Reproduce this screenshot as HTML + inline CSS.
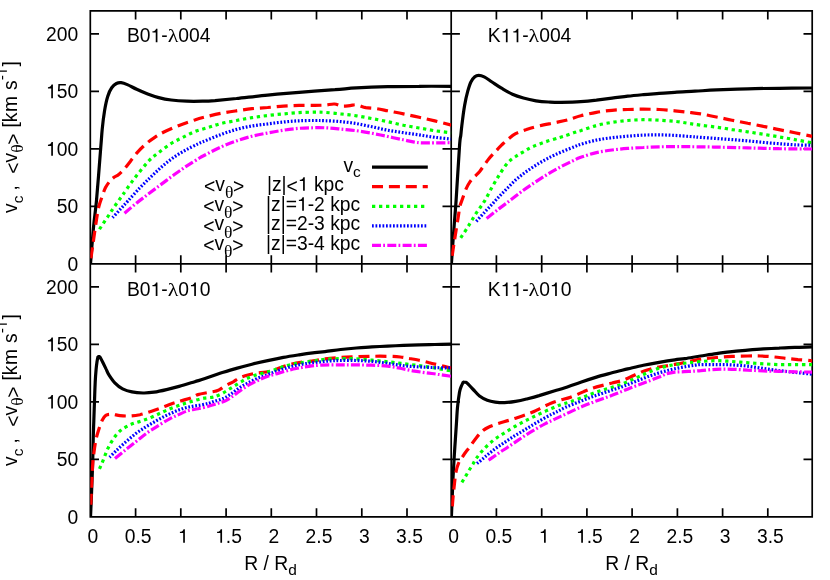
<!DOCTYPE html>
<html><head><meta charset="utf-8"><title>Rotation curves</title>
<style>html,body{margin:0;padding:0;background:#fff}svg{display:block;will-change:transform}text{font-family:"Liberation Sans",sans-serif;font-size:19.3px;fill:#000;font-kerning:none;white-space:pre}.gk{font-family:"Liberation Serif",serif}.c{fill:none;stroke-width:3.2;stroke-linejoin:bevel;stroke-linecap:butt}.f{fill:none;stroke:#000;stroke-width:1.7;stroke-linecap:butt}</style>
</head><body>
<svg width="830" height="580" viewBox="0 0 830 580">
<rect x="0" y="0" width="830" height="580" fill="#fff"/>
<defs>
<clipPath id="cp1"><rect x="90.3" y="10.8" width="360.9" height="253"/></clipPath>
<clipPath id="cp2"><rect x="451.2" y="10.8" width="361.1" height="253"/></clipPath>
<clipPath id="cp3"><rect x="90.3" y="263.9" width="360.9" height="252.9"/></clipPath>
<clipPath id="cp4"><rect x="451.2" y="263.9" width="361.1" height="252.9"/></clipPath>
</defs>
<path class="f" d="M90.3 10.8H812.2V516.8H90.3ZM451.2 10.8V516.8M90.3 263.9H812.2M135.6 10.8v8.6M135.6 255.3V272.5M135.6 516.8v-8.6M180.8 10.8v8.6M180.8 255.3V272.5M180.8 516.8v-8.6M226.1 10.8v8.6M226.1 255.3V272.5M226.1 516.8v-8.6M271.3 10.8v8.6M271.3 255.3V272.5M271.3 516.8v-8.6M316.5 10.8v8.6M316.5 255.3V272.5M316.5 516.8v-8.6M361.8 10.8v8.6M361.8 255.3V272.5M361.8 516.8v-8.6M407 10.8v8.6M407 255.3V272.5M407 516.8v-8.6M496.4 10.8v8.6M496.4 255.3V272.5M496.4 516.8v-8.6M541.7 10.8v8.6M541.7 255.3V272.5M541.7 516.8v-8.6M586.9 10.8v8.6M586.9 255.3V272.5M586.9 516.8v-8.6M632.1 10.8v8.6M632.1 255.3V272.5M632.1 516.8v-8.6M677.4 10.8v8.6M677.4 255.3V272.5M677.4 516.8v-8.6M722.6 10.8v8.6M722.6 255.3V272.5M722.6 516.8v-8.6M767.8 10.8v8.6M767.8 255.3V272.5M767.8 516.8v-8.6M90.3 206.4h8.7M442.5 206.4H459.9M812.2 206.4h-8.7M90.3 148.9h8.7M442.5 148.9H459.9M812.2 148.9h-8.7M90.3 91.3h8.7M442.5 91.3H459.9M812.2 91.3h-8.7M90.3 33.8h8.7M442.5 33.8H459.9M812.2 33.8h-8.7M90.3 459.3h8.7M442.5 459.3H459.9M812.2 459.3h-8.7M90.3 401.8h8.7M442.5 401.8H459.9M812.2 401.8h-8.7M90.3 344.3h8.7M442.5 344.3H459.9M812.2 344.3h-8.7M90.3 286.8h8.7M442.5 286.8H459.9M812.2 286.8h-8.7"/>
<g clip-path="url(#cp1)">
<path class="c" stroke="#000000" d="M90.5 263.7C91 257.5 92.6 236.9 93.6 226.3C94.6 215.7 95.3 213.3 96.5 200.3C97.7 187.3 99.8 159.9 100.7 148.1C101.7 136.3 101.6 135.6 102.2 129.3C102.8 123 103.7 116 104.6 110.5C105.5 105 106.5 100.2 107.7 96.4C108.9 92.6 110.2 89.8 111.7 87.7C113.2 85.6 114.8 84.3 116.4 83.5C118 82.7 119.3 82.5 121.1 82.7C122.9 82.9 124.7 83.5 127.3 84.6C129.9 85.7 133.3 87.7 136.7 89.3C140.1 90.9 144 92.6 147.7 94C151.4 95.4 154.8 96.6 158.7 97.6C162.6 98.6 166.5 99.4 171.2 100C175.9 100.6 181.7 101 186.9 101.2C192.1 101.4 197.9 101.3 202.6 101.2C207.3 101.1 209.4 101 215 100.6C220.6 100.1 227.6 99.4 236.4 98.5C245.2 97.6 257.2 96.1 267.7 95.1C278.1 94.1 287.9 93.2 299.1 92.3C310.3 91.4 325.4 90.4 335 89.7C344.6 89 347.6 88.4 356.4 87.9C365.2 87.4 377.2 86.9 387.7 86.6C398.1 86.3 408.5 86.3 419.1 86.3C429.7 86.2 446 86.3 451.4 86.3"/>
<path class="c" stroke="#ff0000" stroke-dasharray="11 5.9" d="M90.9 258.3C91.2 256.5 92 250.9 92.5 247.3C93 243.7 93.5 240.6 94 236.8C94.5 233 95.2 228.2 95.8 224.3C96.4 220.4 96.9 216.5 97.5 213.3C98.1 210.1 98.5 207.9 99.2 205.3C99.9 202.7 100.7 200.7 101.7 197.8C102.7 194.9 104 190.6 105.4 187.8C106.8 185 108.7 182.6 110.1 180.8C111.5 179.1 112.6 178.4 114 177.3C115.4 176.2 117 175.9 118.7 174.5C120.4 173.1 122.2 171.2 124.2 169C126.2 166.8 128.2 164.2 130.5 161.2C132.8 158.3 135.4 154.4 138.3 151.3C141.2 148.2 144.9 144.8 147.7 142.5C150.4 140.2 152.2 139 154.8 137.3C157.4 135.6 159.4 134.3 163.4 132.3C167.4 130.3 173.9 127.5 179.1 125.4C184.3 123.3 190.5 121.3 194.8 119.9C199.1 118.5 200.7 118.1 205 117C209.3 115.9 215.5 114.4 220.7 113.4C225.9 112.4 231.2 111.6 236.4 110.8C241.6 110 246.8 109.2 252 108.7C257.2 108.2 262.5 107.9 267.7 107.5C272.9 107.1 278.2 106.4 283.4 106.1C288.6 105.8 293.9 105.5 299.1 105.4C304.3 105.3 310.5 105.4 314.8 105.4C319.1 105.3 321.7 105.3 325 105.1C328.3 104.9 331.5 103.8 334.4 104C337.3 104.2 339.6 105.8 342.2 106.1C344.8 106.4 347.7 105.8 350.1 105.6C352.5 105.4 353.8 104.5 356.4 104.8C359 105.1 362.4 106.9 365.8 107.6C369.2 108.2 373.1 108.2 376.7 108.7C380.3 109.2 383.2 109.9 387.7 110.8C392.1 111.7 398.2 112.8 403.4 113.9C408.6 115 413.9 116.1 419.1 117.3C424.3 118.5 429.4 119.6 434.8 120.9C440.2 122.2 448.6 124.4 451.4 125.1"/>
<path class="c" stroke="#00ff00" stroke-dasharray="3.3 3.7" d="M99.5 229.3C100.1 228.3 101.9 225.4 103.3 223.3C104.7 221.2 106.4 218.7 107.7 216.8C109 214.9 109.8 213.5 110.9 211.8C112 210.1 113.2 208.4 114.5 206.5C115.8 204.6 117.6 202.1 119 200.1C120.4 198.1 121 197.4 123 194.5C125 191.6 128.5 186.5 131.3 182.6C134.1 178.8 136.9 175.1 139.9 171.4C142.9 167.7 146.2 163.6 149.3 160.4C152.4 157.2 155.2 155.2 158.7 152.5C162.2 149.8 166.6 146.4 170.5 143.9C174.4 141.4 178.1 139.8 182.2 137.7C186.2 135.7 190.5 133.3 194.8 131.6C199.1 129.9 203.8 128.8 208.1 127.5C212.4 126.2 216 124.8 220.7 123.6C225.4 122.4 231.2 121.5 236.4 120.5C241.6 119.5 246.8 118.5 252 117.7C257.2 116.9 262.5 116.1 267.7 115.5C272.9 114.9 278.2 114.4 283.4 113.9C288.6 113.4 293.9 112.9 299.1 112.6C304.3 112.3 310.5 112.2 314.8 112.2C319.1 112.2 320.7 112.1 325 112.4C329.3 112.7 335.5 113.3 340.7 113.9C345.9 114.5 351.2 115 356.4 115.8C361.6 116.6 366.8 117.6 372 118.6C377.2 119.6 382.5 120.6 387.7 121.7C392.9 122.8 398.2 124.2 403.4 125.2C408.6 126.2 413.9 127.1 419.1 128C424.3 128.9 429.4 129.9 434.8 130.7C440.2 131.5 448.6 132.5 451.4 132.8"/>
<path class="c" stroke="#0000ff" stroke-dasharray="1.75 1.75" d="M112.6 217.7C113.7 216.5 116.9 213 119.4 210.2C121.9 207.4 124.4 204.8 127.8 201.1C131.2 197.4 136.1 191.8 139.9 187.8C143.8 183.8 147.2 180.4 150.9 176.9C154.6 173.4 158.2 169.9 161.8 166.7C165.5 163.6 168.9 160.8 172.8 158C176.7 155.2 181.2 152.6 185.4 150.2C189.6 147.9 194.6 145.5 197.9 143.9C201.2 142.3 201.2 142.4 205 140.9C208.8 139.4 215.5 136.5 220.7 134.6C225.9 132.7 231.2 130.8 236.4 129.4C241.6 128 246.8 126.9 252 126C257.2 125.1 262.5 124.6 267.7 123.9C272.9 123.2 278.2 122.5 283.4 122C288.6 121.5 293.9 121 299.1 120.8C304.3 120.5 310.5 120.5 314.8 120.5C319.1 120.5 320.7 120.5 325 120.7C329.3 120.9 335.5 121.1 340.7 121.6C345.9 122.1 351.2 122.7 356.4 123.6C361.6 124.5 366.8 125.7 372 126.8C377.2 127.9 382.5 129.2 387.7 130.2C392.9 131.2 398.2 131.9 403.4 132.7C408.6 133.5 413.9 134.1 419.1 134.9C424.3 135.7 429.4 136.6 434.8 137.3C440.2 138 448.6 138.8 451.4 139.1"/>
<path class="c" stroke="#ff00ff" stroke-dasharray="9 2.2 1.8 2.3" d="M124.5 213.3C126.5 211.6 132.6 206.2 136.7 202.9C140.8 199.6 145.1 196.5 149.3 193.3C153.5 190.1 157.6 187 161.8 183.9C166 180.8 170.2 177.5 174.4 174.5C178.6 171.5 182.7 168.7 186.9 165.9C191.1 163.2 196.5 159.8 199.5 158C202.5 156.2 201.5 156.8 205 155C208.5 153.2 215.5 149.5 220.7 147.1C225.9 144.8 231.2 142.7 236.4 140.9C241.6 139.1 246.8 137.5 252 136.2C257.2 134.9 262.5 134 267.7 133C272.9 132 278.2 131 283.4 130.2C288.6 129.4 293.9 128.7 299.1 128.3C304.3 127.9 310.1 127.8 314.8 127.7C319.5 127.6 323.1 127.7 327.4 127.9C331.7 128.1 335.9 128.6 340.7 129.1C345.5 129.6 351.2 130 356.4 130.7C361.6 131.4 366.8 132.3 372 133.3C377.2 134.3 382.5 135.4 387.7 136.5C392.9 137.6 398.9 138.9 403.4 139.8C407.8 140.7 411.3 141.6 414.4 142.1C417.5 142.6 418.8 142.8 422.2 142.9C425.6 143 429.9 142.9 434.8 142.9C439.7 142.9 448.6 142.7 451.4 142.7"/>
</g>
<g clip-path="url(#cp2)">
<path class="c" stroke="#000000" d="M451.4 263.7C451.8 257.5 453.3 236.9 454.1 226.3C454.9 215.7 455.2 213.6 456.1 200.3C457 187 458.7 157.1 459.5 146.3C460.3 135.5 460.4 138.7 460.8 135.3C461.2 131.9 461.2 130.9 461.8 125.9C462.4 120.9 463.6 111.2 464.6 105.5C465.6 99.8 466.6 95.3 467.7 91.4C468.8 87.5 469.7 84.4 470.9 82C472.1 79.6 473.5 77.9 474.8 76.8C476.1 75.7 477.1 75.4 478.7 75.4C480.3 75.4 482 75.8 484.2 76.9C486.4 78 489.1 80.1 492 82C494.9 83.9 498.1 86.2 501.5 88.2C504.9 90.2 508.8 92.6 512.4 94.2C516 95.8 519.5 96.9 523.4 98C527.3 99.1 531.8 100.1 536 100.8C540.2 101.5 544.3 101.8 548.5 102C552.7 102.2 555.6 102.4 561 102.3C566.4 102.2 574.8 102 580.7 101.6C586.6 101.2 591.2 100.7 596.4 100.1C601.6 99.5 606.8 98.8 612 98.2C617.2 97.6 622.5 96.8 627.7 96.2C632.9 95.6 638.2 95.1 643.4 94.6C648.6 94.1 653.9 93.8 659.1 93.4C664.3 93 668.8 92.7 674.8 92.3C680.8 91.9 688.1 91.6 695 91.2C701.9 90.8 707.6 90.3 716.4 89.9C725.2 89.5 737.2 89.1 747.7 88.8C758.2 88.5 768.3 88.4 779.1 88.3C789.9 88.2 806.8 88 812.3 88"/>
<path class="c" stroke="#ff0000" stroke-dasharray="11 5.9" d="M452.2 255.8C452.4 254.1 453.2 248.7 453.7 245.3C454.2 241.9 454.7 239.3 455.3 235.3C455.9 231.3 457 224.8 457.5 221.5C458 218.2 458.1 217.9 458.5 215.3C458.9 212.7 459.3 208.7 460 205.9C460.7 203.2 461.5 201.7 462.5 198.8C463.5 195.9 464.9 191.5 466.2 188.6C467.5 185.7 468.7 183.6 470.1 181.6C471.5 179.6 473.2 178.1 474.8 176.4C476.4 174.8 477.9 173.6 479.5 171.7C481.1 169.8 482.6 167.3 484.2 165.1C485.8 163 487.1 161 488.9 158.8C490.7 156.6 493.1 154.1 495.2 151.8C497.3 149.5 499.4 147.3 501.5 145.2C503.6 143.2 505.3 141.4 507.7 139.5C510.1 137.6 512.5 135.4 515.6 133.7C518.7 132 522.6 130.8 526.5 129.5C530.4 128.2 534.4 127 539.1 125.9C543.8 124.8 550 123.7 554.8 122.7C559.6 121.7 563.8 121 568.1 119.8C572.4 118.6 576 117 580.7 115.8C585.4 114.5 591.2 113.2 596.4 112.3C601.6 111.4 606.8 110.8 612 110.3C617.2 109.8 622.5 109.7 627.7 109.5C632.9 109.3 638.2 109.2 643.4 109.2C648.6 109.2 653.9 109.2 659.1 109.5C664.3 109.8 670 110.3 674.8 110.8C679.6 111.3 683.8 111.8 688.1 112.3C692.4 112.8 696 113.1 700.7 113.9C705.4 114.7 711.2 116 716.4 117C721.6 118 726.8 119.2 732 120.2C737.2 121.2 742.5 122.3 747.7 123.3C752.9 124.3 758.2 125.3 763.4 126.4C768.6 127.4 773.9 128.6 779.1 129.6C784.3 130.7 789.3 131.6 794.8 132.7C800.3 133.8 809.4 135.8 812.3 136.4"/>
<path class="c" stroke="#00ff00" stroke-dasharray="3.3 3.7" d="M460.7 237.9C462 235.9 465.9 230.1 468.5 225.9C471.1 221.7 473.8 216.9 476.4 212.8C479 208.8 481.6 205.9 484.2 201.6C486.8 197.4 489.4 191.9 492 187.3C494.6 182.7 497.3 178 499.9 173.9C502.5 169.8 505.1 165.8 507.7 162.9C510.3 160 513 158.3 515.6 156.5C518.2 154.7 520.6 153.4 523.4 151.8C526.2 150.2 528.8 148.5 532.5 146.8C536.2 145.2 540.9 143.5 545.4 141.9C549.9 140.3 555.9 138.6 559.5 137.5C563.1 136.4 564.7 136 567.3 135.1C569.9 134.2 572.8 133 575 132.3C577.2 131.6 577.1 131.8 580.7 130.7C584.3 129.6 591.2 126.9 596.4 125.5C601.6 124.1 606.8 123.2 612 122.4C617.2 121.6 622.5 121 627.7 120.5C632.9 120 638.2 119.8 643.4 119.7C648.6 119.7 653.9 119.9 659.1 120.2C664.3 120.5 670 120.8 674.8 121.3C679.6 121.8 683.8 122.6 688.1 123.3C692.4 124 696 124.6 700.7 125.2C705.4 125.8 711.2 126.4 716.4 127.1C721.6 127.8 726.8 128.8 732 129.6C737.2 130.4 742.5 131 747.7 131.8C752.9 132.6 758.2 133.5 763.4 134.3C768.6 135.2 773.9 136 779.1 136.9C784.3 137.8 789.3 138.6 794.8 139.6C800.3 140.6 809.4 142.4 812.3 142.9"/>
<path class="c" stroke="#0000ff" stroke-dasharray="1.75 1.75" d="M476.3 221.3C477.7 219.8 481.9 215.1 484.5 212.3C487.1 209.5 489.4 207.1 492 204.3C494.6 201.5 497.3 198.5 499.9 195.7C502.5 193 505.1 190.4 507.7 187.8C510.3 185.2 513 182.3 515.6 180C518.2 177.7 520.8 175.7 523.4 173.7C526 171.7 528.6 170 531.2 168.2C533.8 166.5 536.5 164.8 539.1 163.2C541.7 161.6 544.3 160.2 546.9 158.8C549.5 157.4 551.8 156.3 554.8 154.9C557.8 153.5 561.6 151.9 565 150.5C568.4 149.1 572.4 147.5 575 146.5C577.6 145.5 577.1 145.4 580.7 144.3C584.3 143.2 591.2 141.2 596.4 140.1C601.6 139 606.8 138.4 612 137.7C617.2 137.1 622.5 136.6 627.7 136.2C632.9 135.8 638.2 135.3 643.4 135.1C648.6 134.9 653.9 134.9 659.1 134.9C664.3 134.9 669.6 135.1 674.8 135.4C679.9 135.7 685.7 136.2 690 136.5C694.3 136.8 696.3 137.1 700.7 137.4C705.1 137.7 711.2 138.1 716.4 138.5C721.6 138.9 726.8 139.2 732 139.6C737.2 140 742.5 140.4 747.7 140.9C752.9 141.4 758.2 141.9 763.4 142.4C768.6 142.9 773.9 143.3 779.1 143.7C784.3 144.1 789.3 144.5 794.8 144.8C800.3 145.1 809.4 145.2 812.3 145.3"/>
<path class="c" stroke="#ff00ff" stroke-dasharray="9 2.2 1.8 2.3" d="M486.6 218.4C488.6 216.8 494.8 212 498.8 208.9C502.9 205.8 506.8 202.9 510.9 199.8C515 196.7 519.2 193.2 523.4 190.2C527.6 187.2 531.8 184.4 536 181.6C540.2 178.9 544.3 176.2 548.5 173.7C552.7 171.2 556.9 168.9 561 166.7C565.1 164.5 569.7 162.3 573 160.7C576.3 159.1 576.8 158.7 580.7 157.3C584.6 156 591.2 153.8 596.4 152.6C601.6 151.4 606.8 150.7 612 150C617.2 149.3 622.5 148.8 627.7 148.4C632.9 148 638.2 147.8 643.4 147.5C648.6 147.2 653.9 146.9 659.1 146.8C664.3 146.7 669.6 146.7 674.8 146.7C679.9 146.7 683.1 146.6 690 146.7C696.9 146.8 706.8 146.9 716.4 147.1C726 147.3 737.2 147.6 747.7 147.9C758.2 148.2 768.3 148.5 779.1 148.7C789.9 148.9 806.8 148.9 812.3 149"/>
</g>
<g clip-path="url(#cp3)">
<path class="c" stroke="#000000" d="M90.5 516.9C90.7 512.7 91.3 499.8 91.6 491.5C91.9 483.2 92.2 475.9 92.5 467.4C92.8 458.9 93 448 93.2 440.3C93.4 432.6 93.5 428.8 93.8 421.3C94 413.8 94.5 401.8 94.7 395.3C94.9 388.8 95 386.6 95.2 382.3C95.4 378 95.8 372.7 96.1 369.3C96.4 365.9 96.7 363.9 97 361.8C97.3 359.7 97.8 357.6 98 356.7C98.3 356.7 99.5 356.7 99.8 356.7C100.1 357.2 100.9 358.6 101.4 359.6C101.9 360.6 102.2 361.2 103 362.8C103.8 364.4 105 366.9 106 368.9C107 370.9 107.3 372.4 108.8 374.7C110.3 377 112.5 380.4 114.8 382.8C117.1 385.2 119.7 387.3 122.6 388.8C125.5 390.3 128.6 391.2 132 391.9C135.4 392.6 139.3 392.9 143 393C146.7 393.1 150.1 392.8 154 392.2C157.9 391.6 162.3 390.6 166.5 389.6C170.7 388.6 174.4 387.7 179.1 386.4C183.8 385.1 190.5 383 194.8 381.7C199.1 380.4 200.7 380 205 378.6C209.3 377.2 215.5 374.8 220.7 373.1C225.9 371.4 231.2 369.9 236.4 368.4C241.6 366.9 246.8 365.5 252 364.2C257.2 362.9 262.5 361.7 267.7 360.6C272.9 359.5 278.2 358.4 283.4 357.4C288.6 356.4 293.9 355.6 299.1 354.8C304.3 354 310.5 353.2 314.8 352.7C319.1 352.2 320.7 352.1 325 351.6C329.3 351.1 335.5 350.1 340.7 349.5C345.9 348.9 351.2 348.4 356.4 348C361.6 347.6 366.8 347.2 372 346.9C377.2 346.6 382.5 346.4 387.7 346.1C392.9 345.9 398.2 345.6 403.4 345.4C408.6 345.2 413.9 345 419.1 344.8C424.3 344.6 429.4 344.6 434.8 344.5C440.2 344.4 448.6 344.2 451.4 344.2"/>
<path class="c" stroke="#ff0000" stroke-dasharray="11 5.9" d="M90.8 504.8C90.9 501.6 91.3 491.7 91.6 485.5C91.9 479.3 92.2 472.5 92.5 467.4C92.8 462.4 93 459.9 93.6 455.2C94.2 450.5 95.1 443.9 96 439.5C96.9 435.1 98.1 431.7 99.1 428.5C100.1 425.3 101.1 422.5 102.2 420.3C103.3 418.1 104.2 416.3 105.8 415.3C107.4 414.3 109.3 414.2 111.7 414.3C114.1 414.4 117.1 415.3 120 415.6C122.9 415.9 125.6 416.1 128.9 416C132.2 415.9 136.2 415.4 139.9 414.7C143.6 413.9 147.2 412.7 150.9 411.5C154.6 410.3 158.3 408.9 161.8 407.6C165.3 406.3 168.7 404.8 171.8 403.7C174.9 402.6 177.2 402 180.5 401C183.8 400 188.7 398.8 191.6 397.7C194.5 396.6 195.3 395.4 197.9 394.6C200.5 393.8 204.5 393.2 207.3 392.7C210.2 392.1 213 391.8 215 391.3C217 390.8 217.4 390.8 219.1 389.9C220.8 389 223.1 387.1 225.4 385.7C227.8 384.3 230.8 383.1 233.2 381.8C235.5 380.5 236.9 379 239.5 377.8C242.1 376.6 246 375.5 248.9 374.7C251.8 373.9 253.8 373.6 256.7 373.1C259.6 372.7 263.3 372.5 266.2 372C269.1 371.5 271.1 370.9 274 370C276.9 369.1 280.3 367.5 283.4 366.4C286.5 365.4 289.7 364.4 292.8 363.7C295.9 363 298.5 362.7 302.2 362.2C305.9 361.7 311 361.2 314.8 360.6C318.6 360.1 320.7 359.4 325 358.9C329.3 358.4 335.5 357.8 340.7 357.4C345.9 357 351.2 356.9 356.4 356.7C361.6 356.5 366.8 356.4 372 356.3C377.2 356.2 383 356.2 387.7 356.3C392.4 356.4 396.6 356.6 400.3 357C404 357.4 406.6 358.1 409.7 358.6C412.8 359.1 416 359.6 419.1 360.2C422.2 360.8 425.4 361.7 428.5 362.5C431.6 363.3 434.1 363.9 437.9 364.8C441.7 365.7 449.1 367.6 451.4 368.1"/>
<path class="c" stroke="#00ff00" stroke-dasharray="3.3 3.7" d="M99.5 468.9C100.1 467.5 101.6 464 103 460.7C104.4 457.4 105.9 452.7 107.7 448.9C109.5 445.1 111.8 441 114 437.9C116.2 434.8 118.3 432.3 121.1 430.1C123.8 427.9 127.4 426.1 130.5 424.6C133.6 423.2 136.7 422.5 139.9 421.4C143.1 420.3 146.3 419.4 149.5 418.1C152.7 416.8 156.2 415.1 159 413.8C161.8 412.5 163.7 411.5 166.5 410.3C169.3 409.1 172.8 407.7 176 406.5C179.2 405.3 182.3 404.3 185.4 403.3C188.5 402.3 191.7 401.4 194.8 400.5C197.9 399.6 201.3 398.7 204.2 398.2C207.1 397.7 210 397.6 212 397.3C214 397 214.3 396.8 216 396.2C217.7 395.6 220.1 394.6 222.2 393.5C224.3 392.4 226.4 390.9 228.5 389.6C230.6 388.3 232.7 387 234.8 385.7C236.9 384.4 239 383 241.1 381.8C243.2 380.6 244.7 379.5 247.3 378.3C249.9 377.1 253.5 375.7 256.7 374.7C259.8 373.7 263.3 373.1 266.2 372.3C269.1 371.5 271.1 370.9 274 370C276.9 369.1 280.3 367.6 283.4 366.6C286.5 365.6 289.7 364.8 292.8 364.1C295.9 363.4 298.5 363.1 302.2 362.5C305.9 361.9 311 361.3 314.8 360.8C318.6 360.3 320.7 359.8 325 359.4C329.3 359 335.5 358.7 340.7 358.6C345.9 358.5 351.2 358.6 356.4 358.9C361.6 359.2 366.8 359.7 372 360.2C377.2 360.7 382.5 361.2 387.7 361.8C392.9 362.4 398.2 363 403.4 363.6C408.6 364.2 413.9 365 419.1 365.7C424.3 366.4 429.4 367.1 434.8 368C440.2 368.9 448.6 370.5 451.4 371"/>
<path class="c" stroke="#0000ff" stroke-dasharray="1.75 1.75" d="M109.5 457.3C110.7 456.2 113.7 453.1 116.4 450.5C119.1 447.9 122.7 444.7 125.8 441.9C128.9 439.2 132.1 436.4 135.2 434C138.3 431.6 141.5 429.7 144.6 427.7C147.7 425.7 150.9 423.9 154 422.1C157.1 420.3 160.3 418.5 163.4 416.9C166.5 415.3 169.7 413.9 172.8 412.5C175.9 411.1 179.1 409.8 182.2 408.8C185.3 407.8 188.5 407.1 191.6 406.5C194.7 405.9 198.1 405.6 201 405C203.9 404.4 206.7 403.8 208.9 403.2C211.1 402.6 211.9 402.1 214.4 401.3C216.9 400.5 220.9 399.5 223.8 398.2C226.7 396.9 229.1 395.2 231.7 393.5C234.3 391.8 236.9 389.4 239.5 387.7C242.1 386 244.4 384.8 247.3 383.3C250.2 381.8 253.5 380 256.7 378.6C259.8 377.2 263 376.4 266.2 375.2C269.4 374 272.5 372.7 275.6 371.6C278.7 370.5 281.9 369.4 285 368.4C288.1 367.4 291 366.6 294.4 365.8C297.8 365 301.5 364.3 305.4 363.7C309.3 363.1 313.8 362.7 317.9 362.2C322 361.7 326.2 361.2 330 360.9C333.8 360.6 336.3 360.6 340.7 360.5C345.1 360.4 351.2 360.4 356.4 360.5C361.6 360.6 366.8 360.9 372 361.4C377.2 361.9 382.5 362.6 387.7 363.3C392.9 364 398.2 365.1 403.4 365.7C408.6 366.3 413.9 366.6 419.1 366.9C424.3 367.2 429.4 367.4 434.8 367.6C440.2 367.8 448.6 367.9 451.4 368"/>
<path class="c" stroke="#ff00ff" stroke-dasharray="9 2.2 1.8 2.3" d="M115 458.5C116.8 457 122.2 452.6 125.8 449.7C129.4 446.8 133 444 136.7 441.1C140.3 438.2 144 435 147.7 432.4C151.4 429.8 155 427.7 158.7 425.4C162.4 423.1 166.3 420.6 169.7 418.8C173.1 417 176 415.8 179.1 414.4C182.2 413 185.4 411.4 188.5 410.5C191.6 409.6 194.6 409.5 197.9 408.8C201.2 408.1 205.7 407.1 208.5 406.3C211.3 405.6 213.1 404.9 215 404.3C216.9 403.7 218.3 403.2 220 402.6C221.7 402 223.2 402 225.4 400.9C227.6 399.8 230.8 397.5 233.2 395.9C235.5 394.3 236.9 393 239.5 391.2C242.1 389.4 245.8 386.7 248.9 384.9C252 383.1 255.2 381.6 258.3 380.2C261.4 378.8 264.3 377.5 267.7 376.3C271.1 375.1 275 374.2 278.7 373.1C282.4 372.1 286.3 370.9 289.7 370C293.1 369.1 296 368.6 299.1 368C302.2 367.4 304.9 366.9 308.5 366.4C312.1 365.9 315.6 365.4 321 365.1C326.4 364.9 334.8 364.9 340.7 364.9C346.6 364.9 351.2 364.9 356.4 364.9C361.6 365 366.8 365 372 365.2C377.2 365.4 383 365.6 387.7 366.1C392.4 366.6 396.1 367.5 400.3 368.3C404.5 369.1 408.6 370.1 412.8 370.8C417 371.5 421.2 372.1 425.4 372.7C429.6 373.3 433.6 373.7 437.9 374.3C442.2 374.9 449.1 376 451.4 376.3"/>
</g>
<g clip-path="url(#cp4)">
<path class="c" stroke="#000000" d="M451.4 516.9C451.5 513.6 451.9 504.1 452.2 497.3C452.5 490.5 452.8 483.3 453.1 476.3C453.5 469.3 453.9 461.3 454.3 455.3C454.7 449.3 454.9 445.8 455.3 440.3C455.7 434.8 456.1 427.8 456.5 422.3C456.9 416.8 457 412.3 457.5 407.3C458 402.3 458.9 395.8 459.5 392.3C460.1 388.8 460.7 388 461.3 386.3C461.9 384.6 462.9 382.9 463.2 382.2C463.7 382.2 465.8 382.3 466.3 382.3C466.8 382.8 468.4 384.3 469.5 385.5C470.6 386.7 471.5 387.8 473.2 389.5C474.9 391.2 477.1 394.2 479.5 396C481.9 397.8 484.7 399.3 487.3 400.3C489.9 401.3 492.3 401.7 495.2 402.1C498.1 402.5 501.2 402.8 504.6 402.7C508 402.6 512 402 515.6 401.4C519.2 400.8 522.6 400 526.5 399C530.4 398 534.4 397 539.1 395.6C543.8 394.2 550.5 392.1 554.8 390.8C559.1 389.5 560.7 389.1 565 387.7C569.3 386.3 575.5 384 580.7 382.2C585.9 380.4 591.2 378.7 596.4 377.1C601.6 375.5 606.8 374.2 612 372.8C617.2 371.4 622.5 370.2 627.7 368.9C632.9 367.7 638.2 366.4 643.4 365.3C648.6 364.2 653.9 363.2 659.1 362.3C664.3 361.4 670.5 360.4 674.8 359.8C679.1 359.2 680.7 359.2 685 358.6C689.3 358 695.5 356.8 700.7 356C705.9 355.2 711.2 354.3 716.4 353.6C721.6 352.9 726.8 352.3 732 351.7C737.2 351.1 742.5 350.7 747.7 350.2C752.9 349.7 758.2 349.2 763.4 348.9C768.6 348.6 773.9 348.4 779.1 348.1C784.3 347.8 789.3 347.5 794.8 347.3C800.3 347.1 809.4 347 812.3 346.9"/>
<path class="c" stroke="#ff0000" stroke-dasharray="11 5.9" d="M452.3 506.3C452.5 504.3 452.9 498.1 453.3 494.3C453.7 490.5 454.1 487.1 454.5 483.3C454.9 479.6 455.3 475.1 456 471.8C456.7 468.5 457.4 465.8 458.5 463.3C459.6 460.8 461.2 458.7 462.5 456.8C463.8 454.9 464.7 453.5 466 451.8C467.3 450.1 468.4 448.8 470.1 446.4C471.8 444.1 474.3 440.3 476.4 437.7C478.5 435.1 480.5 432.7 482.6 430.9C484.7 429.1 486.3 428.2 488.9 427C491.5 425.8 494.9 424.6 498.3 423.5C501.7 422.4 505.9 421.3 509 420.3C512.1 419.3 514.2 418.7 517.1 417.7C520 416.7 523.7 415.5 526.5 414.5C529.3 413.5 531.4 412.7 534 411.5C536.6 410.3 539.3 408.8 542.2 407.4C545.1 406 548.5 404.2 551.6 403C554.7 401.8 557.9 400.9 561 399.9C564.1 399 566.7 398.7 570.5 397.3C574.3 395.9 580 393.2 583.8 391.6C587.6 390.1 590.1 389 593.2 388C596.3 387 599.5 386.2 602.6 385.4C605.7 384.6 608.9 383.8 612 383C615.1 382.2 618.4 381.7 621.5 380.7C624.6 379.7 627.8 378.2 630.9 376.8C634 375.4 637.2 373.7 640.3 372.4C643.4 371.1 646.6 370.1 649.7 369.2C652.8 368.3 656 367.6 659.1 367C662.2 366.4 665.4 366 668.5 365.5C671.6 365 674.8 364.5 677.9 363.9C681 363.3 683.5 362.7 687.3 361.9C691.1 361.1 695.9 359.8 700.7 359.1C705.6 358.4 711.2 357.9 716.4 357.5C721.6 357.1 726.8 356.7 732 356.4C737.2 356.2 743 356.1 747.7 356C752.4 355.9 756.1 355.9 760.3 356C764.5 356.1 768.6 356.4 772.8 356.8C777 357.2 781.2 357.8 785.4 358.3C789.6 358.8 793.4 359.2 797.9 359.6C802.4 360 809.9 360.6 812.3 360.8"/>
<path class="c" stroke="#00ff00" stroke-dasharray="3.3 3.7" d="M461.9 482.3C462.5 481.3 464.3 478.4 465.5 476.4C466.7 474.4 467.8 472.6 469 470.5C470.2 468.4 471.8 466.1 473 464C474.2 461.9 474.6 460.7 476.5 458.1C478.4 455.6 481.3 451.7 484.2 448.7C487.1 445.7 490.5 442.6 493.6 440.1C496.7 437.6 499.9 435.8 503 433.8C506.1 431.8 509.3 429.8 512.4 427.9C515.5 426.1 518.7 424.4 521.8 422.7C524.9 421 528 419.5 531.2 417.9C534.4 416.3 537.6 414.8 541 413.2C544.4 411.6 548.3 409.9 551.6 408.5C554.9 407.1 557.9 405.7 561 404.6C564.1 403.5 566.7 403.1 570.5 401.8C574.3 400.5 580 398.2 583.8 396.8C587.6 395.4 590.1 394.3 593.2 393.2C596.3 392.1 599.5 391.1 602.6 390.1C605.7 389.1 608.9 388.4 612 387.4C615.1 386.4 618.4 385.5 621.5 384.3C624.6 383.1 627.8 381.6 630.9 380.2C634 378.8 637.2 377.4 640.3 376C643.4 374.6 646.6 373 649.7 371.7C652.8 370.4 656 369.1 659.1 368.1C662.2 367.1 665.4 366.5 668.5 365.8C671.6 365.1 674.6 364.7 677.9 364.2C681.1 363.7 684.2 363.2 688 362.8C691.8 362.4 696 361.9 700.7 361.5C705.4 361.1 711.2 360.7 716.4 360.7C721.6 360.7 726.8 361.2 732 361.5C737.2 361.8 742.5 362.3 747.7 362.7C752.9 363.1 758.2 363.5 763.4 363.8C768.6 364.1 773.9 364.5 779.1 364.6C784.3 364.7 789.3 364.6 794.8 364.6C800.3 364.6 809.4 364.6 812.3 364.6"/>
<path class="c" stroke="#0000ff" stroke-dasharray="1.75 1.75" d="M477 463.6C478.5 462.4 483 458.6 486 456.1C489 453.6 492.1 451 495.2 448.7C498.3 446.4 501.5 444.5 504.6 442.4C507.7 440.3 510.9 438.2 514 436.2C517.1 434.2 520.3 432.5 523.4 430.6C526.5 428.7 529.7 426.8 532.8 424.9C535.9 423 539.1 421.2 542.2 419.4C545.3 417.6 548.9 415.7 551.6 414.3C554.3 412.9 556.2 412.2 558.5 411C560.8 409.8 562.8 408.5 565.5 407.3C568.2 406.1 571.6 404.8 574.6 403.6C577.6 402.4 580.7 401.2 583.8 400C586.9 398.8 590.1 397.5 593.2 396.4C596.3 395.3 599.5 394.2 602.6 393.2C605.7 392.1 608.9 391.2 612 390.1C615.1 389.1 618.4 388 621.5 386.9C624.6 385.8 627.8 384.5 630.9 383.3C634 382.1 637.2 380.8 640.3 379.6C643.4 378.4 646.6 377.1 649.7 376C652.8 374.9 656 373.8 659.1 372.8C662.2 371.8 665.4 371 668.5 370.2C671.6 369.4 674.8 368.8 677.9 368.1C681 367.5 684.4 366.8 687.3 366.3C690.1 365.8 692.8 365.5 695 365.2C697.2 364.9 697.1 364.7 700.7 364.6C704.3 364.5 711.2 364.6 716.4 364.6C721.6 364.7 726.8 364.6 732 364.9C737.2 365.2 742.5 365.6 747.7 366.2C752.9 366.8 758.2 367.8 763.4 368.5C768.6 369.2 773.9 370 779.1 370.6C784.3 371.2 789.3 371.8 794.8 372.4C800.3 373 809.4 373.8 812.3 374.1"/>
<path class="c" stroke="#ff00ff" stroke-dasharray="9 2.2 1.8 2.3" d="M488.6 460.3C490.2 459.2 495.1 455.6 498.3 453.4C501.5 451.2 504.6 449.3 507.7 447.2C510.8 445.1 514 443 517.1 440.9C520.2 438.8 523.4 436.6 526.5 434.6C529.6 432.6 532.9 430.7 536 428.9C539.1 427.1 542.3 425.2 545.4 423.6C548.5 422 551.7 420.6 554.8 419.1C557.9 417.6 560.9 416.3 564.2 414.8C567.5 413.3 571.3 411.4 574.6 409.9C577.9 408.4 580.7 407.1 583.8 405.8C586.9 404.5 590.1 403.4 593.2 402.2C596.3 401 599.5 399.8 602.6 398.7C605.7 397.6 608.9 396.5 612 395.3C615.1 394.1 618.4 392.9 621.5 391.6C624.6 390.3 627.8 388.9 630.9 387.7C634 386.5 637.2 385.5 640.3 384.3C643.4 383.1 646.6 381.9 649.7 380.7C652.8 379.5 656.2 378.2 659.1 377.1C662 376 664.3 374.6 666.9 373.8C669.5 373 671.9 372.5 674.8 372.1C677.7 371.8 680.8 371.9 684.2 371.7C687.6 371.5 692.2 371.3 695 371.1C697.8 370.9 697.1 370.9 700.7 370.6C704.3 370.3 711.2 369.5 716.4 369.3C721.6 369.1 726.8 369.2 732 369.3C737.2 369.4 742.5 369.8 747.7 370.1C752.9 370.4 758.2 370.7 763.4 370.9C768.6 371.1 773.9 371.2 779.1 371.3C784.3 371.4 789.3 371.7 794.8 371.8C800.3 371.9 809.4 372.1 812.3 372.1"/>
</g>
<path class="c" stroke="#000000" d="M372 167.1H427.8"/>
<path class="c" stroke="#ff0000" stroke-dasharray="11 5.9" d="M372 186.6H427.8"/>
<path class="c" stroke="#00ff00" stroke-dasharray="3.3 3.7" d="M372 206.3H427.8"/>
<path class="c" stroke="#0000ff" stroke-dasharray="1.75 1.75" d="M372 225.8H427.8"/>
<path class="c" stroke="#ff00ff" stroke-dasharray="9 2.2 1.8 2.3" d="M372 245.4H427.8"/>
<text x="67.47" y="270.65">0</text>
<text x="56.73" y="213.15">50</text>
<path d="M359 0H271V505H101V568C190 575 255 600 289 703H359Z" transform="translate(46.00 155.65) scale(0.01930 -0.01930)"/>
<text x="56.73" y="155.65">00</text>
<path d="M359 0H271V505H101V568C190 575 255 600 289 703H359Z" transform="translate(46.00 98.15) scale(0.01930 -0.01930)"/>
<text x="56.73" y="98.15">50</text>
<text x="46.00" y="40.65">200</text>
<text x="67.47" y="523.60">0</text>
<text x="56.73" y="466.11">50</text>
<path d="M359 0H271V505H101V568C190 575 255 600 289 703H359Z" transform="translate(46.00 408.62) scale(0.01930 -0.01930)"/>
<text x="56.73" y="408.62">00</text>
<path d="M359 0H271V505H101V568C190 575 255 600 289 703H359Z" transform="translate(46.00 351.13) scale(0.01930 -0.01930)"/>
<text x="56.73" y="351.13">50</text>
<text x="46.00" y="293.65">200</text>
<text x="87.48" y="542.70">0</text>
<text x="124.67" y="542.70">0.5</text>
<path d="M359 0H271V505H101V568C190 575 255 600 289 703H359Z" transform="translate(177.95 542.70) scale(0.01930 -0.01930)"/>
<path d="M359 0H271V505H101V568C190 575 255 600 289 703H359Z" transform="translate(215.14 542.70) scale(0.01930 -0.01930)"/>
<text x="225.87" y="542.70">.5</text>
<text x="268.42" y="542.70">2</text>
<text x="305.61" y="542.70">2.5</text>
<text x="358.89" y="542.70">3</text>
<text x="396.08" y="542.70">3.5</text>
<text x="448.33" y="542.70">0</text>
<text x="485.52" y="542.70">0.5</text>
<path d="M359 0H271V505H101V568C190 575 255 600 289 703H359Z" transform="translate(538.80 542.70) scale(0.01930 -0.01930)"/>
<path d="M359 0H271V505H101V568C190 575 255 600 289 703H359Z" transform="translate(575.99 542.70) scale(0.01930 -0.01930)"/>
<text x="586.72" y="542.70">.5</text>
<text x="629.27" y="542.70">2</text>
<text x="666.46" y="542.70">2.5</text>
<text x="719.74" y="542.70">3</text>
<text x="756.93" y="542.70">3.5</text>
<text x="244.30" y="569.50">R / R</text>
<text x="288.26" y="575.20" style="font-size:15.44px">d</text>
<text x="605.20" y="569.50">R / R</text>
<text x="649.16" y="575.20" style="font-size:15.44px">d</text>
<text x="126.90" y="42.30">B0</text>
<path d="M359 0H271V505H101V568C190 575 255 600 289 703H359Z" transform="translate(150.51 42.30) scale(0.01930 -0.01930)"/>
<text x="161.24" y="42.30">-</text>
<text class="gk" transform="translate(167.67 42.30) scale(1.132 1)">λ</text>
<text x="178.26" y="42.30">004</text>
<text x="487.80" y="42.30">K</text>
<path d="M359 0H271V505H101V568C190 575 255 600 289 703H359Z" transform="translate(500.67 42.30) scale(0.01930 -0.01930)"/>
<path d="M359 0H271V505H101V568C190 575 255 600 289 703H359Z" transform="translate(511.41 42.30) scale(0.01930 -0.01930)"/>
<text x="522.14" y="42.30">-</text>
<text class="gk" transform="translate(528.57 42.30) scale(1.132 1)">λ</text>
<text x="539.16" y="42.30">004</text>
<text x="126.90" y="296.00">B0</text>
<path d="M359 0H271V505H101V568C190 575 255 600 289 703H359Z" transform="translate(150.51 296.00) scale(0.01930 -0.01930)"/>
<text x="161.24" y="296.00">-</text>
<text class="gk" transform="translate(167.67 296.00) scale(1.132 1)">λ</text>
<text x="178.26" y="296.00">0</text>
<path d="M359 0H271V505H101V568C190 575 255 600 289 703H359Z" transform="translate(189.00 296.00) scale(0.01930 -0.01930)"/>
<text x="199.73" y="296.00">0</text>
<text x="487.80" y="296.00">K</text>
<path d="M359 0H271V505H101V568C190 575 255 600 289 703H359Z" transform="translate(500.67 296.00) scale(0.01930 -0.01930)"/>
<path d="M359 0H271V505H101V568C190 575 255 600 289 703H359Z" transform="translate(511.41 296.00) scale(0.01930 -0.01930)"/>
<text x="522.14" y="296.00">-</text>
<text class="gk" transform="translate(528.57 296.00) scale(1.132 1)">λ</text>
<text x="539.16" y="296.00">0</text>
<path d="M359 0H271V505H101V568C190 575 255 600 289 703H359Z" transform="translate(549.90 296.00) scale(0.01930 -0.01930)"/>
<text x="560.63" y="296.00">0</text>
<g transform="translate(17.2 212.9) rotate(-90)">
<text x="0.00" y="0.00">v</text>
<text x="9.65" y="5.70" style="font-size:15.44px">c</text>
<text x="22.50" y="0.00">,</text>
<text x="39.20" y="2.40">&lt;</text>
<text x="50.47" y="0.00">v</text>
<text class="gk" x="60.12" y="6.00" style="font-size:17.6px">θ</text>
<text x="68.17" y="2.40">&gt;</text>
<text x="85.30" y="0.00">[k</text>
<text x="100.90" y="0.00">m</text>
<text x="122.80" y="0.00">s</text>
<text x="132.6" y="-10.3" style="font-size:15.44px">-</text>
<path d="M359 0H271V505H101V568C190 575 255 600 289 703H359Z" transform="translate(136.90 -10.30) scale(0.01544 -0.01544)"/>
<text x="146.40" y="0.00">]</text>
</g>
<g transform="translate(17.2 465.9) rotate(-90)">
<text x="0.00" y="0.00">v</text>
<text x="9.65" y="5.70" style="font-size:15.44px">c</text>
<text x="22.50" y="0.00">,</text>
<text x="39.20" y="2.40">&lt;</text>
<text x="50.47" y="0.00">v</text>
<text class="gk" x="60.12" y="6.00" style="font-size:17.6px">θ</text>
<text x="68.17" y="2.40">&gt;</text>
<text x="85.30" y="0.00">[k</text>
<text x="100.90" y="0.00">m</text>
<text x="122.80" y="0.00">s</text>
<text x="132.6" y="-10.3" style="font-size:15.44px">-</text>
<path d="M359 0H271V505H101V568C190 575 255 600 289 703H359Z" transform="translate(136.90 -10.30) scale(0.01544 -0.01544)"/>
<text x="146.40" y="0.00">]</text>
</g>
<text x="343.40" y="171.50">v</text>
<text x="353.05" y="177.20" style="font-size:15.44px">c</text>
<text x="204.10" y="193.20">&lt;</text>
<text x="215.37" y="190.80">v</text>
<text class="gk" x="225.02" y="198.20" style="font-size:17.6px">θ</text>
<text x="233.07" y="193.20">&gt;</text>
<text x="266.90" y="190.80">|z|</text>
<text x="286.58" y="193.20">&lt;</text>
<path d="M359 0H271V505H101V568C190 575 255 600 289 703H359Z" transform="translate(297.85 190.80) scale(0.01930 -0.01930)"/>
<text x="308.58" y="190.80"> kpc</text>
<text x="203.20" y="213.20">&lt;</text>
<text x="214.47" y="210.80">v</text>
<text class="gk" x="224.12" y="218.20" style="font-size:17.6px">θ</text>
<text x="232.17" y="213.20">&gt;</text>
<text x="266.00" y="210.80">|z|</text>
<text x="285.68" y="210.80">=</text>
<path d="M359 0H271V505H101V568C190 575 255 600 289 703H359Z" transform="translate(296.95 210.80) scale(0.01930 -0.01930)"/>
<text x="307.68" y="210.80">-2 kpc</text>
<text x="203.20" y="232.80">&lt;</text>
<text x="214.47" y="230.40">v</text>
<text class="gk" x="224.12" y="237.80" style="font-size:17.6px">θ</text>
<text x="232.17" y="232.80">&gt;</text>
<text x="266.00" y="230.40">|z|</text>
<text x="285.68" y="230.40">=2-3 kpc</text>
<text x="203.20" y="252.40">&lt;</text>
<text x="214.47" y="250.00">v</text>
<text class="gk" x="224.12" y="257.40" style="font-size:17.6px">θ</text>
<text x="232.17" y="252.40">&gt;</text>
<text x="266.00" y="250.00">|z|</text>
<text x="285.68" y="250.00">=3-4 kpc</text>
</svg></body></html>
